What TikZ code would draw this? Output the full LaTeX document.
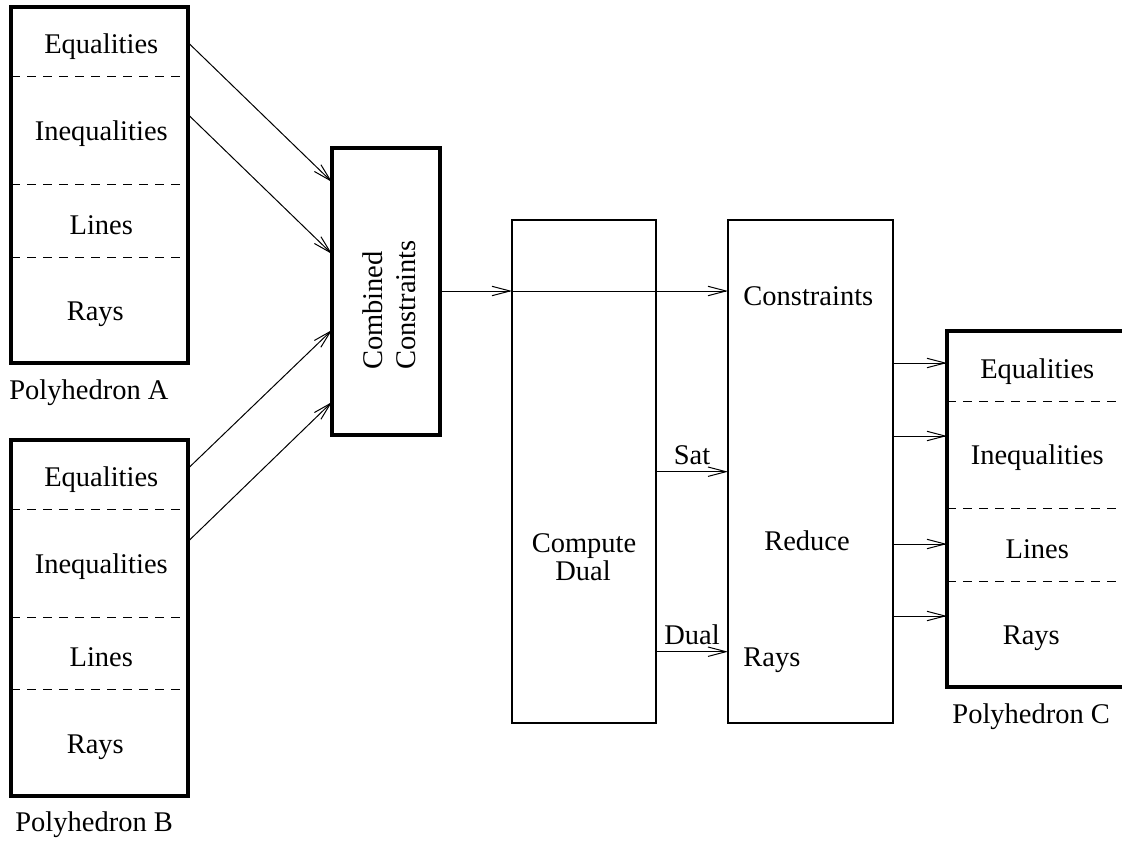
\documentclass[tikz,border=0pt]{standalone}
\usepackage{fontspec}
\setmainfont{Liberation Serif}
\usetikzlibrary{arrows.meta}
\tikzset{
    polybox/.style={draw, line width=2pt, inner sep=0pt, outer sep=0pt,
        minimum width=88.25pt, minimum height=178pt},
    thinbox/.style={draw, line width=0.65pt, inner sep=0pt, outer sep=0pt},
    divider/.style={line width=0.5pt, dash pattern=on 4.5pt off 3.5pt},
    arr/.style={line width=0.5pt, -{Straight Barb[length=9pt,width=4.7pt]}},
    lbl/.style={inner sep=0pt}
}
\begin{document}
\begin{tikzpicture}[x=0.5pt, y=-0.5pt,
    every node/.style={font=\fontsize{14.25pt}{16.4pt}\selectfont}]
    \useasboundingbox (0,0) rectangle (1122,840);
    % input polyhedra
    \node [polybox] (polyA) at (99.25, 185) {};
    \node [polybox] (polyB) at (99.25, 617.5) {};
    \draw [divider] (polyA.west |- 0,77) -- (polyA.east |- 0,77);
    \draw [divider] (polyA.west |- 0,184.5) -- (polyA.east |- 0,184.5);
    \draw [divider] (polyA.west |- 0,257) -- (polyA.east |- 0,257);
    \draw [divider] (polyB.west |- 0,509.5) -- (polyB.east |- 0,509.5);
    \draw [divider] (polyB.west |- 0,617) -- (polyB.east |- 0,617);
    \draw [divider] (polyB.west |- 0,689.5) -- (polyB.east |- 0,689.5);
    \node [lbl, anchor=base] (aEq) at (101.25, 54) {Equalities};
    \node [lbl, anchor=base] (aIneq) at (101.25, 140.5) {Inequalities};
    \node [lbl, anchor=base] (aLines) at (101.25, 234) {Lines};
    \node [lbl, anchor=base] (aRays) at (95.25, 320.5) {Rays};
    \node [lbl, anchor=base west] (aName) at (9, 399) {Polyhedron A};
    \node [lbl, anchor=base] (bEq) at (101.25, 486.5) {Equalities};
    \node [lbl, anchor=base] (bIneq) at (101.25, 573) {Inequalities};
    \node [lbl, anchor=base] (bLines) at (101.25, 666.5) {Lines};
    \node [lbl, anchor=base] (bRays) at (95.25, 753) {Rays};
    \node [lbl, anchor=base west] (bName) at (15, 831.5) {Polyhedron B};
    % processing steps
    \node [polybox, minimum width=54pt, minimum height=143.25pt] (comb) at (386, 291.25) {};
    \node [lbl, rotate=90, align=left] (combText) at (389, 305) {Combined\\Constraints};
    \node [thinbox, minimum width=72pt, minimum height=251.5pt] (dual) at (584, 471.5) {};
    \node [lbl, anchor=base] (dualTop) at (584, 552) {Compute};
    \node [lbl, anchor=base] (dualBot) at (583, 580) {Dual};
    \node [thinbox, minimum width=82.5pt, minimum height=251.5pt] (reduce) at (810.5, 471.5) {};
    \node [lbl, anchor=base west] (redCons) at (743, 305.7) {Constraints};
    \node [lbl, anchor=base] (redText) at (807, 550.5) {Reduce};
    \node [lbl, anchor=base west] (redRays) at (743, 666) {Rays};
    % output polyhedron
    \node [polybox] (polyC) at (1035.25, 509) {};
    \draw [divider] (polyC.west |- 0,401) -- (polyC.east |- 0,401);
    \draw [divider] (polyC.west |- 0,508.5) -- (polyC.east |- 0,508.5);
    \draw [divider] (polyC.west |- 0,581) -- (polyC.east |- 0,581);
    \node [lbl, anchor=base] (cEq) at (1037.25, 378) {Equalities};
    \node [lbl, anchor=base] (cIneq) at (1037.25, 464.5) {Inequalities};
    \node [lbl, anchor=base] (cLines) at (1037.25, 558) {Lines};
    \node [lbl, anchor=base] (cRays) at (1031.25, 644.5) {Rays};
    \node [lbl, anchor=base west] (cName) at (952, 723) {Polyhedron C};
    % connectors
    \path (polyA.east |- 0,42) edge [arr] (comb.west |- 0,182);
    \path (polyA.east |- 0,114) edge [arr] (comb.west |- 0,254);
    \path (polyB.east |- 0,469) edge [arr] (comb.west |- 0,330);
    \path (polyB.east |- 0,542) edge [arr] (comb.west |- 0,402);
    \path (comb.east |- 0,291) edge [arr] (dual.west |- 0,291);
    \path (dual.west |- 0,291) edge [arr] (reduce.west |- 0,291);
    \path (dual.east |- 0,471.7) edge [arr] node [lbl, above=3.3pt] {Sat} (reduce.west |- 0,471.7);
    \path (dual.east |- 0,651.7) edge [arr] node [lbl, above=3.3pt] {Dual} (reduce.west |- 0,651.7);
    \path (reduce.east |- 0,363) edge [arr] (polyC.west |- 0,363);
    \path (reduce.east |- 0,436) edge [arr] (polyC.west |- 0,436);
    \path (reduce.east |- 0,544) edge [arr] (polyC.west |- 0,544);
    \path (reduce.east |- 0,616) edge [arr] (polyC.west |- 0,616);
\end{tikzpicture}
\end{document}
